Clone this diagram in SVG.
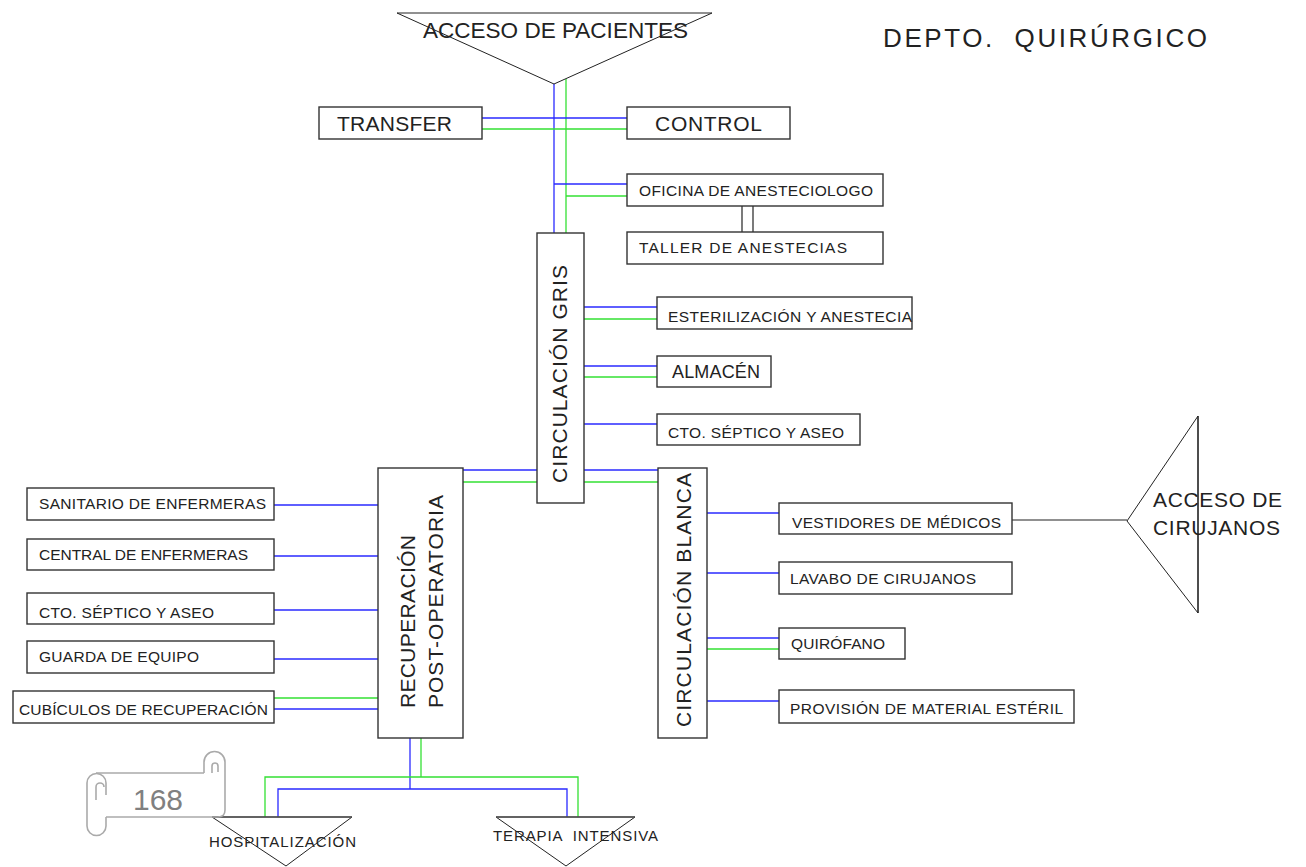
<svg xmlns="http://www.w3.org/2000/svg" width="1306" height="867" viewBox="0 0 1306 867">
<style>
.box{fill:#fff;stroke:#333;stroke-width:1.4}
.tri{fill:#fff;stroke:#222;stroke-width:1}
.t{font-family:"Liberation Sans",Arial,sans-serif;fill:#222}
.s{font-size:15.5px}
.b{stroke:#2a2aff;stroke-width:1.3;fill:none}
.g{stroke:#33e033;stroke-width:1.3;fill:none}
.k{stroke:#222;stroke-width:1.2;fill:none}
</style>
<rect width="1306" height="867" fill="#fff"/>

<g id="connectors">
  <line class="b" x1="554" y1="84" x2="554" y2="233"/>
  <line class="g" x1="566" y1="79" x2="566" y2="233"/>
  <line class="b" x1="482" y1="118" x2="627" y2="118"/>
  <line class="g" x1="482" y1="129" x2="627" y2="129"/>
  <line class="b" x1="554" y1="184" x2="627" y2="184"/>
  <line class="g" x1="566" y1="196" x2="627" y2="196"/>
  <line class="k" x1="742" y1="206" x2="742" y2="232"/>
  <line class="k" x1="753" y1="206" x2="753" y2="232"/>
  <line class="b" x1="584" y1="307" x2="657" y2="307"/>
  <line class="g" x1="584" y1="319" x2="657" y2="319"/>
  <line class="b" x1="584" y1="366" x2="657" y2="366"/>
  <line class="g" x1="584" y1="377" x2="657" y2="377"/>
  <line class="b" x1="584" y1="424" x2="657" y2="424"/>
  <line class="b" x1="463" y1="470" x2="537" y2="470"/>
  <line class="g" x1="463" y1="482" x2="537" y2="482"/>
  <line class="b" x1="584" y1="470" x2="658" y2="470"/>
  <line class="g" x1="584" y1="482" x2="658" y2="482"/>
  <line class="b" x1="274" y1="505" x2="378" y2="505"/>
  <line class="b" x1="274" y1="556" x2="378" y2="556"/>
  <line class="b" x1="274" y1="610" x2="378" y2="610"/>
  <line class="b" x1="274" y1="659" x2="378" y2="659"/>
  <line class="g" x1="274" y1="698" x2="378" y2="698"/>
  <line class="b" x1="274" y1="709" x2="378" y2="709"/>
  <line class="b" x1="707" y1="513" x2="779" y2="513"/>
  <line class="b" x1="707" y1="573" x2="779" y2="573"/>
  <line class="b" x1="707" y1="638" x2="779" y2="638"/>
  <line class="g" x1="707" y1="649" x2="779" y2="649"/>
  <line class="b" x1="707" y1="701" x2="779" y2="701"/>
  <line class="k" x1="1012" y1="520" x2="1127" y2="520"/>
  <polyline class="b" points="278,817 278,789 567,789 567,817"/>
  <line class="b" x1="410" y1="738" x2="410" y2="789"/>
  <polyline class="g" points="265,817 265,777 578,777 578,817"/>
  <line class="g" x1="421" y1="738" x2="421" y2="777"/>
</g>

<g id="acceso-pacientes">
  <polygon class="tri" points="397,13 712,13 554,84"/>
  <text class="t" x="423" y="38" font-size="22" textLength="265" lengthAdjust="spacingAndGlyphs">ACCESO DE PACIENTES</text>
</g>
<g id="titulo">
  <text class="t" x="883" y="47" font-size="26" textLength="324" lengthAdjust="spacing" xml:space="preserve">DEPTO.  QUIRÚRGICO</text>
</g>
<g id="transfer">
  <rect class="box" x="319" y="107" width="163" height="32"/>
  <text class="t" x="337" y="131" font-size="21" textLength="115">TRANSFER</text>
</g>
<g id="control">
  <rect class="box" x="627" y="107" width="163" height="32"/>
  <text class="t" x="655" y="131" font-size="21" textLength="107">CONTROL</text>
</g>
<g id="oficina">
  <rect class="box" x="627" y="174" width="256" height="32"/>
  <text class="t s" x="639" y="196" textLength="234">OFICINA DE ANESTECIOLOGO</text>
</g>
<g id="taller">
  <rect class="box" x="627" y="232" width="256" height="32"/>
  <text class="t s" x="639" y="253" textLength="208">TALLER DE ANESTECIAS</text>
</g>
<g id="circulacion-gris">
  <rect class="box" x="537" y="233" width="47" height="270"/>
  <text class="t" transform="translate(567,374) rotate(-90)" text-anchor="middle" font-size="21" textLength="218">CIRCULACIÓN GRIS</text>
</g>
<g id="esterilizacion">
  <rect class="box" x="657" y="297" width="255" height="32"/>
  <text class="t s" x="668" y="322" textLength="244">ESTERILIZACIÓN Y ANESTECIA</text>
</g>
<g id="almacen">
  <rect class="box" x="657" y="356" width="114" height="31"/>
  <text class="t" x="672" y="378" font-size="18" textLength="88">ALMACÉN</text>
</g>
<g id="cto-septico-gris">
  <rect class="box" x="657" y="414" width="203" height="31"/>
  <text class="t s" x="668" y="438" textLength="176">CTO. SÉPTICO Y ASEO</text>
</g>
<g id="recuperacion">
  <rect class="box" x="378" y="468" width="85" height="270"/>
  <text class="t" transform="translate(415,708) rotate(-90)" font-size="21" textLength="173">RECUPERACIÓN</text>
  <text class="t" transform="translate(443,708) rotate(-90)" font-size="21" textLength="213">POST-OPERATORIA</text>
</g>
<g id="sanitario">
  <rect class="box" x="27" y="488" width="247" height="32"/>
  <text class="t s" x="39" y="509" textLength="227">SANITARIO DE ENFERMERAS</text>
</g>
<g id="central">
  <rect class="box" x="27" y="539" width="247" height="31"/>
  <text class="t s" x="39" y="560" textLength="209">CENTRAL DE ENFERMERAS</text>
</g>
<g id="cto-septico-rec">
  <rect class="box" x="27" y="593" width="247" height="31"/>
  <text class="t s" x="39" y="618" textLength="175">CTO. SÉPTICO Y ASEO</text>
</g>
<g id="guarda">
  <rect class="box" x="27" y="641" width="247" height="32"/>
  <text class="t s" x="39" y="662" textLength="160">GUARDA DE EQUIPO</text>
</g>
<g id="cubiculos">
  <rect class="box" x="13" y="691" width="261" height="32"/>
  <text class="t s" x="19" y="715" textLength="249">CUBÍCULOS DE RECUPERACIÓN</text>
</g>
<g id="circulacion-blanca">
  <rect class="box" x="658" y="468" width="49" height="270"/>
  <text class="t" transform="translate(691,600) rotate(-90)" text-anchor="middle" font-size="21" textLength="254">CIRCULACIÓN BLANCA</text>
</g>
<g id="vestidores">
  <rect class="box" x="779" y="503" width="233" height="31"/>
  <text class="t s" x="792" y="528" textLength="209">VESTIDORES DE MÉDICOS</text>
</g>
<g id="lavabo">
  <rect class="box" x="779" y="562" width="233" height="32"/>
  <text class="t s" x="790" y="584" textLength="186">LAVABO DE CIRUJANOS</text>
</g>
<g id="quirofano">
  <rect class="box" x="779" y="628" width="126" height="31"/>
  <text class="t s" x="791" y="649" textLength="94">QUIRÓFANO</text>
</g>
<g id="provision">
  <rect class="box" x="779" y="690" width="295" height="33"/>
  <text class="t s" x="790" y="714" textLength="273">PROVISIÓN DE MATERIAL ESTÉRIL</text>
</g>
<g id="acceso-cirujanos">
  <polygon class="tri" points="1198,416 1127,521 1198,613"/>
  <line class="k" x1="1198" y1="416" x2="1198" y2="613" stroke="#555"/>
  <text class="t" x="1153" y="507" font-size="21" textLength="129">ACCESO DE</text>
  <text class="t" x="1153" y="535" font-size="21" textLength="127">CIRUJANOS</text>
</g>
<g id="hospitalizacion">
  <polygon class="tri" points="212,817 352,817 286,866"/>
  <line x1="212" y1="817" x2="352" y2="817" stroke="#555" stroke-width="1.6"/>
  <text class="t" x="209" y="847" font-size="15" textLength="147">HOSPITALIZACIÓN</text>
</g>
<g id="terapia">
  <polygon class="tri" points="496,817 635,817 566,866"/>
  <line x1="496" y1="817" x2="635" y2="817" stroke="#555" stroke-width="1.6"/>
  <text class="t" x="493" y="841" font-size="15" textLength="165" xml:space="preserve">TERAPIA  INTENSIVA</text>
</g>
<g id="pagina" fill="none" stroke="#aaa" stroke-width="1.6">
  <path d="M96 773 H204 M204 773 V762 A10.5 10.5 0 0 1 225 762 V810 Q225 817 218 817 H106"/>
  <path d="M212 773 V766 A3 3 0 0 1 218 766 V772"/>
  <path d="M106 817 V826 A9.5 9.5 0 0 1 87 826 V783 A9.5 9.5 0 0 1 106 783 V795"/>
  <path d="M96 800 V787 A4 4 0 0 1 104 787"/>
  <text x="158" y="810" font-family="'Liberation Sans',Arial,sans-serif" font-size="30" fill="#808080" stroke="none" text-anchor="middle">168</text>
</g>
</svg>
